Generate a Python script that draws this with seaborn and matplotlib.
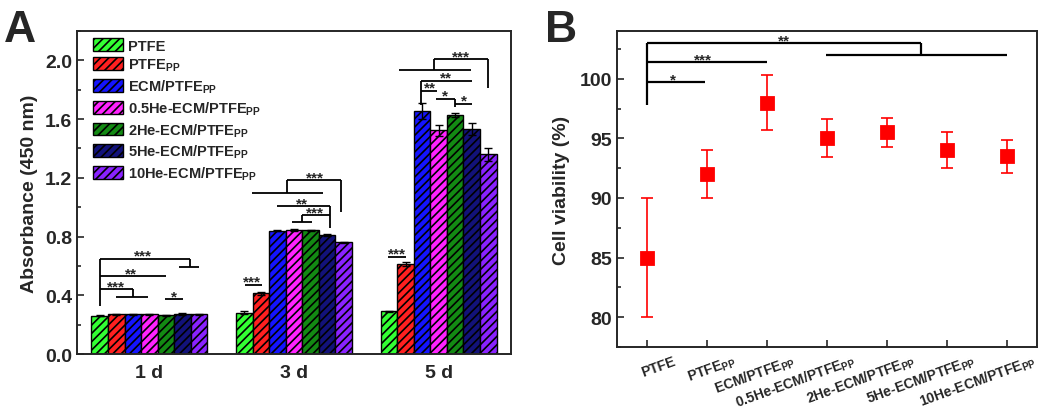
import numpy as np
import pandas as pd
import seaborn as sns
import matplotlib
import matplotlib.pyplot as plt
import matplotlib.patches as mpatches
import matplotlib.transforms as mtransforms
from matplotlib.ticker import MultipleLocator

# ---------------- data ----------------
days = ['1 d', '3 d', '5 d']
group_keys = ['PTFE', 'PTFEpp', 'ECM/PTFEpp', '0.5He-ECM/PTFEpp',
              '2He-ECM/PTFEpp', '5He-ECM/PTFEpp', '10He-ECM/PTFEpp']
group_labels = ['PTFE', 'PTFE$_{\\mathrm{PP}}$', 'ECM/PTFE$_{\\mathrm{PP}}$',
                '0.5He-ECM/PTFE$_{\\mathrm{PP}}$', '2He-ECM/PTFE$_{\\mathrm{PP}}$',
                '5He-ECM/PTFE$_{\\mathrm{PP}}$', '10He-ECM/PTFE$_{\\mathrm{PP}}$']
bar_colors = ['#33ff33', '#ff2020', '#1414ff', '#ff22ff', '#138a13', '#12127a', '#8a22ff']

abs_1d = [0.26, 0.27, 0.272, 0.27, 0.265, 0.275, 0.272]
abs_3d = [0.28, 0.415, 0.84, 0.845, 0.842, 0.81, 0.76]
abs_5d = [0.29, 0.615, 1.655, 1.525, 1.628, 1.532, 1.36]
err_1d = [0.004, 0.005, 0.004, 0.005, 0.004, 0.008, 0.004]
err_3d = [0.010, 0.010, 0.004, 0.005, 0.004, 0.005, 0.003]
err_5d = [0.006, 0.012, 0.055, 0.038, 0.015, 0.040, 0.042]

viability = [85, 92, 98, 95, 95.5, 94, 93.5]
viability_err = [5, 2, 2.3, 1.6, 1.2, 1.5, 1.4]

# ---------------- style ----------------
sns.set_style('ticks')
plt.rcParams['font.family'] = ['Liberation Sans', 'DejaVu Sans']
plt.rcParams['font.weight'] = 'bold'
plt.rcParams['mathtext.fontset'] = 'custom'
plt.rcParams['mathtext.rm'] = 'Liberation Sans:bold'
plt.rcParams['mathtext.bf'] = 'Liberation Sans:bold'
plt.rcParams['hatch.linewidth'] = 1.2
plt.rcParams['hatch.color'] = 'black'
plt.rcParams['axes.linewidth'] = 1.4

fig = plt.figure(figsize=(10.5, 4.1), dpi=100)
ax1 = fig.add_axes([0.0733, 0.134, 0.4134, 0.788])
ax2 = fig.add_axes([0.5876, 0.151, 0.400, 0.771])

# ---------------- panel A ----------------
rows = []
for d, vals, errs in zip(days, [abs_1d, abs_3d, abs_5d], [err_1d, err_3d, err_5d]):
    for g, v, e in zip(group_keys, vals, errs):
        rows.append({'day': d, 'group': g, 'absorbance': v, 'err': e})
df_a = pd.DataFrame(rows)

sns.barplot(data=df_a, x='day', y='absorbance', hue='group', hue_order=group_keys,
            palette=bar_colors, saturation=1, width=0.8, edgecolor='black', linewidth=1.0,
            errorbar=None, legend=False, ax=ax1)

for g, cont in zip(group_keys, ax1.containers):
    sub = df_a[df_a['group'] == g]
    xs = []
    for bar in cont:
        bar.set_hatch('////')
        xs.append(bar.get_x() + bar.get_width() / 2)
    ax1.errorbar(xs, sub['absorbance'], yerr=sub['err'], fmt='none', ecolor='black',
                 elinewidth=1.0, capsize=3, capthick=1.0, zorder=5)

ax1.set_xlim(-0.5, 2.5)
ax1.set_ylim(0, 2.2)
ax1.yaxis.set_major_locator(MultipleLocator(0.4))
ax1.yaxis.set_minor_locator(MultipleLocator(0.2))
ax1.yaxis.set_major_formatter(matplotlib.ticker.FormatStrFormatter('%.1f'))
ax1.tick_params(axis='y', which='major', direction='in', length=5, width=1.2, labelsize=14)
ax1.tick_params(axis='y', which='minor', direction='in', length=3, width=1.2)
ax1.tick_params(axis='x', length=0, labelsize=14, pad=7)
ax1.set_xlabel('')
ax1.set_ylabel('Absorbance (450 nm)', fontsize=14, fontweight='bold', labelpad=5)
for s in ax1.spines.values():
    s.set_visible(True)

handles = [mpatches.Patch(facecolor=c, edgecolor='black', hatch='////', linewidth=1.0)
           for c in bar_colors]
ax1.legend(handles, group_labels, loc='upper left', bbox_to_anchor=(0.013, 1.009),
           frameon=False, fontsize=10.5, handlelength=2.1, handleheight=0.95,
           handletextpad=0.3, labelspacing=0.28, borderpad=0.2)


def bx(day, idx):
    return day + (idx - 3) * 0.8 / 7


def draw_bracket(ax, segs, lw=1.3):
    for (x0, y0), (x1, y1) in segs:
        ax.plot([x0, x1], [y0, y1], color='black', lw=lw, solid_capstyle='butt', zorder=6)


def stars(ax, x, y, s, size=11):
    ax.annotate(s, (x, y), xytext=(0, -0.8), textcoords='offset points', ha='center',
                va='baseline', fontsize=size, fontweight='bold', zorder=7)


# day 1 brackets
draw_bracket(ax1, [((bx(0, 0), 0.33), (bx(0, 0), 0.65)),
                   ((bx(0, 0), 0.65), (bx(0, 5.46), 0.65)),
                   ((bx(0, 5.46), 0.65), (bx(0, 5.46), 0.59)),
                   ((bx(0, 4.82), 0.59), (bx(0, 5.98), 0.59)),
                   ((bx(0, 0), 0.53), (bx(0, 4.0), 0.53)),
                   ((bx(0, 0), 0.44), (bx(0, 2.03), 0.44)),
                   ((bx(0, 2.03), 0.44), (bx(0, 2.03), 0.386)),
                   ((bx(0, 1.0), 0.386), (bx(0, 2.95), 0.386)),
                   ((bx(0, 3.97), 0.375), (bx(0, 5.06), 0.375))])
stars(ax1, bx(0, 2.6), 0.65, '***')
stars(ax1, bx(0, 1.9), 0.53, '**')
stars(ax1, bx(0, 1.0), 0.44, '***')
stars(ax1, bx(0, 4.5), 0.375, '*')

# day 3 brackets
draw_bracket(ax1, [((bx(1, 0.05), 0.473), (bx(1, 1.05), 0.473)),
                   ((bx(1, 0.45), 1.10), (bx(1, 4.77), 1.10)),
                   ((bx(1, 2.58), 1.10), (bx(1, 2.58), 1.185)),
                   ((bx(1, 2.58), 1.185), (bx(1, 5.85), 1.185)),
                   ((bx(1, 5.85), 1.185), (bx(1, 5.85), 0.967)),
                   ((bx(1, 1.96), 1.008), (bx(1, 5.2), 1.008)),
                   ((bx(1, 5.2), 1.008), (bx(1, 5.2), 0.855)),
                   ((bx(1, 3.5), 0.944), (bx(1, 5.2), 0.944)),
                   ((bx(1, 3.5), 0.944), (bx(1, 3.5), 0.898)),
                   ((bx(1, 2.9), 0.898), (bx(1, 4.1), 0.898))])
stars(ax1, bx(1, 0.47), 0.473, '***')
stars(ax1, bx(1, 4.27), 1.185, '***')
stars(ax1, bx(1, 3.47), 1.008, '**')
stars(ax1, bx(1, 4.27), 0.944, '***')

# day 5 brackets
draw_bracket(ax1, [((bx(2, -0.09), 0.662), (bx(2, 1.02), 0.662)),
                   ((bx(2, 0.6), 1.934), (bx(2, 4.94), 1.934)),
                   ((bx(2, 2.7), 1.934), (bx(2, 2.7), 2.008)),
                   ((bx(2, 2.7), 2.008), (bx(2, 5.99), 2.008)),
                   ((bx(2, 5.99), 2.008), (bx(2, 5.99), 1.81)),
                   ((bx(2, 1.96), 1.861), (bx(2, 5.0), 1.861)),
                   ((bx(2, 1.96), 1.861), (bx(2, 1.96), 1.695)),
                   ((bx(2, 1.96), 1.793), (bx(2, 2.9), 1.793)),
                   ((bx(2, 2.85), 1.738), (bx(2, 4.0), 1.738)),
                   ((bx(2, 4.0), 1.738), (bx(2, 4.0), 1.68)),
                   ((bx(2, 4.0), 1.705), (bx(2, 5.0), 1.705))])
stars(ax1, bx(2, 0.47), 0.662, '***')
stars(ax1, bx(2, 4.33), 2.008, '***')
stars(ax1, bx(2, 3.47), 1.861, '**')
stars(ax1, bx(2, 2.45), 1.793, '**')
stars(ax1, bx(2, 3.4), 1.738, '*')
stars(ax1, bx(2, 4.5), 1.705, '*')

# ---------------- panel B ----------------
df_b = pd.DataFrame({'group': group_labels, 'viability': viability, 'err': viability_err})
sns.pointplot(data=df_b, x='group', y='viability', linestyle='none', marker='s',
              color='red', markersize=8, errorbar=None, ax=ax2, zorder=4)
ax2.errorbar(np.arange(len(df_b)), df_b['viability'], yerr=df_b['err'], fmt='none',
             ecolor='red', elinewidth=1.2, capsize=4, capthick=1.2, zorder=3)

ax2.set_xlim(-0.5, 6.5)
ax2.set_ylim(77.5, 104)
ax2.yaxis.set_major_locator(MultipleLocator(5))
ax2.yaxis.set_minor_locator(MultipleLocator(2.5))
ax2.tick_params(axis='y', which='major', direction='in', length=5, width=1.2, labelsize=14)
ax2.tick_params(axis='y', which='minor', direction='in', length=3, width=1.2)
ax2.tick_params(axis='x', direction='in', length=5, width=1.2, labelsize=10)
ax2.set_xlabel('')
ax2.set_ylabel('Cell viability (%)', fontsize=14, fontweight='bold', labelpad=7)
for s in ax2.spines.values():
    s.set_visible(True)

offset = mtransforms.ScaledTranslation(0.28, -0.08, fig.dpi_scale_trans)
for lab in ax2.get_xticklabels():
    lab.set_rotation(20)
    lab.set_ha('right')
    lab.set_va('center')
    lab.set_rotation_mode('anchor')
    lab.set_fontweight('bold')
    lab.set_transform(lab.get_transform() + offset)

draw_bracket(ax2, [((0, 97.8), (0, 103.0)),
                   ((0, 103.0), (4.56, 103.0)),
                   ((4.56, 103.0), (4.56, 102.0)),
                   ((2.99, 102.0), (6.0, 102.0)),
                   ((0, 101.4), (2.0, 101.4)),
                   ((0, 99.7), (0.97, 99.7))], lw=1.6)
stars(ax2, 2.28, 103.0, '**')
stars(ax2, 0.94, 101.4, '***')
stars(ax2, 0.44, 99.7, '*')

fig.text(0.004, 0.975, 'A', fontsize=32, fontweight='bold', va='top', ha='left')
fig.text(0.519, 0.975, 'B', fontsize=32, fontweight='bold', va='top', ha='left')

fig.savefig('out.png', dpi=100)
